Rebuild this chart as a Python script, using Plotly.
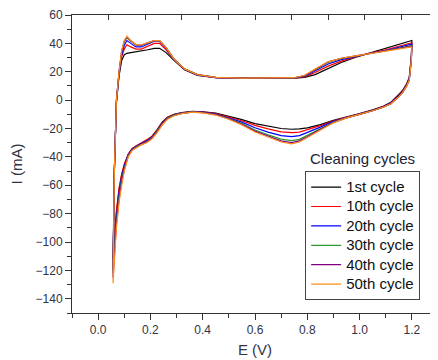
import plotly.graph_objects as go

# Shared potential grids (V)
E_fwd = [0.057, 0.059, 0.062, 0.066, 0.070, 0.080, 0.090, 0.100, 0.110, 0.125, 0.145, 0.165,
         0.190, 0.215, 0.235, 0.260, 0.290, 0.330, 0.380, 0.450, 0.550, 0.650, 0.750, 0.790,
         0.830, 0.880, 0.930, 0.980, 1.030, 1.100, 1.150, 1.200]
E_rev = [1.200, 1.198, 1.195, 1.190, 1.180, 1.165, 1.150, 1.120, 1.090, 1.050, 1.000, 0.950,
         0.900, 0.850, 0.800, 0.770, 0.740, 0.700, 0.650, 0.600, 0.550, 0.500, 0.450, 0.400,
         0.360, 0.320, 0.290, 0.265, 0.245, 0.225, 0.205, 0.185, 0.165, 0.145, 0.130, 0.115,
         0.100, 0.090, 0.080, 0.070, 0.063, 0.057]

cycle_names = ["1st cycle", "10th cycle", "20th cycle", "30th cycle", "40th cycle", "50th cycle"]
cycle_colors = ["#000000", "#ff0000", "#0000ff", "#2e9b2e", "#800080", "#ff8c1a"]

# Currents (mA), anodic (forward) sweeps
I_fwd_1 = [-112, -80, -50, -25, -2, 17, 28, 32, 33, 33.5, 34, 34.5, 35.5, 36.5, 36.5, 33.5, 28, 21.5,
           17.5, 15.8, 15.3, 15.3, 15.5, 16, 18, 22.5, 26.5, 30, 32.8, 36.5, 39.5, 42]
I_fwd_10 = [-118, -80, -50, -25, -1, 18.5, 30.5, 36, 39, 37.5, 36, 36, 38, 40, 40, 35.5, 28.5, 21.7,
            17.7, 15.9, 15.4, 15.4, 15.5, 16.4, 19.5, 24, 27.5, 30.3, 32.7, 35.5, 38, 40.5]
I_fwd_20 = [-120, -80, -50, -25, -0.5, 19, 32, 38.5, 42, 40, 37.5, 37.5, 39.5, 41.5, 41.5, 36.5, 28.8,
            21.8, 17.8, 15.9, 15.4, 15.4, 15.6, 16.7, 20.5, 25.5, 28.5, 30.7, 32.5, 35, 37.2, 39.5]
I_fwd_30 = [-122, -80, -50, -25, 0, 20, 34, 41, 44, 41.5, 38.7, 38.5, 40, 42, 42, 37, 29, 22, 18, 16,
            15.5, 15.5, 15.7, 17, 21.3, 26.5, 29.2, 31, 32.5, 34.7, 36.6, 38.5]
I_fwd_40 = [-125, -80, -50, -25, 0, 20, 34.5, 41.5, 44.5, 41.8, 39, 38.8, 40.3, 42, 42, 37, 29, 22, 18,
            16, 15.5, 15.5, 15.8, 17.3, 21.7, 27, 29.5, 31, 32.5, 34.5, 36.3, 38]
I_fwd_50 = [-129, -80, -50, -25, 0, 20, 35, 42, 45, 42, 39, 39, 40.5, 42, 42, 37, 29, 22, 18, 16,
            15.5, 15.5, 15.8, 17.5, 22, 27, 29.5, 31, 32.5, 34.5, 36, 37.5]

# Currents (mA), cathodic (reverse) sweeps
I_rev_1 = [42, 31, 23, 16, 11.5, 7, 4, -1.5, -4.4, -6.9, -9.4, -11.8, -14.2, -17.2, -19.5, -20.3, -20.5,
           -20, -18.5, -16.5, -13.7, -11.3, -9.2, -8.2, -7.9, -8.8, -10, -12, -15.5, -21, -25.8, -28.5,
           -30.3, -32.3, -34.3, -38.5, -46, -53, -63, -79, -95, -112]
I_rev_10 = [40.5, 30, 22, 15.5, 11, 6.5, 3.5, -1.8, -4.6, -7.1, -9.6, -12, -14.6, -18, -21, -22.5, -22.9,
            -22.3, -20.3, -17.8, -14.5, -11.8, -9.5, -8.3, -8, -8.9, -10.2, -12.3, -16, -21.2, -25.6,
            -28, -30, -32, -34, -38, -45, -52, -62, -78, -95, -118]
I_rev_20 = [39.5, 29, 21, 15, 10.5, 6, 3, -2, -4.8, -7.3, -9.8, -12.2, -15, -19, -23, -25, -25.7, -25,
            -22.5, -19.5, -15.5, -12.4, -9.8, -8.5, -8.2, -9.1, -10.4, -12.7, -16.5, -21.8, -26.2,
            -28.8, -30.6, -32.6, -34.5, -38.5, -46.5, -54, -65, -82, -100, -120]
I_rev_30 = [38.5, 28, 20, 14, 10, 5.5, 2.5, -2.5, -5, -7.5, -10, -12.4, -15.5, -20, -25, -27.6, -28.5,
            -27.5, -24.5, -21, -16.5, -12.9, -10.1, -8.7, -8.3, -9.3, -10.6, -13, -17, -22.3, -26.7,
            -29.3, -31, -33, -35, -39, -48, -56, -68, -85, -103, -122]
I_rev_40 = [38, 28, 20, 14, 10, 5.5, 2.5, -2.5, -5, -7.5, -10, -12.5, -15.8, -20.5, -25.8, -28.7, -29.9,
            -28.7, -25.3, -21.8, -17, -13.2, -10.3, -8.8, -8.4, -9.4, -10.8, -13.2, -17.2, -22.6, -27,
            -29.6, -31.2, -33.2, -35.2, -39.5, -49, -58, -70, -87, -105, -125]
I_rev_50 = [37.5, 28, 20, 14, 10, 5.5, 2.5, -2.5, -5, -7.5, -10, -12.5, -16, -21, -26.5, -29.5, -30.8,
            -29.5, -26, -22.5, -17.5, -13.5, -10.5, -9, -8.5, -9.5, -11, -13.5, -17.5, -23, -27.5, -30,
            -31.5, -33.5, -35.5, -40, -50, -60, -72, -90, -108, -129]

I_fwd = [I_fwd_1, I_fwd_10, I_fwd_20, I_fwd_30, I_fwd_40, I_fwd_50]
I_rev = [I_rev_1, I_rev_10, I_rev_20, I_rev_30, I_rev_40, I_rev_50]

FONT = "Liberation Sans, Arial, sans-serif"
TXT = "#333344"

fig = go.Figure()
for name, col, f, r in zip(cycle_names, cycle_colors, I_fwd, I_rev):
    fig.add_trace(go.Scatter(x=E_fwd + E_rev, y=f + r, mode="lines",
                             name="<span style='font-size:15px'>" + name + "</span>",
                             line=dict(color=col, width=1.2)))

# invisible trace to host the secondary (mirror-tick) axes
fig.add_trace(go.Scatter(x=[0], y=[0], xaxis="x2", yaxis="y2", mode="markers",
                         marker=dict(opacity=0), showlegend=False, hoverinfo="skip"))

fig.update_layout(
    width=430, height=352,
    margin=dict(l=64, r=0, t=7, b=47, autoexpand=False),
    plot_bgcolor="white", paper_bgcolor="white",
    font=dict(family=FONT, size=12, color=TXT),
    showlegend=True,
    legend=dict(x=0.637, y=0.475, xanchor="left", yanchor="top",
                bordercolor="#444444", borderwidth=1, bgcolor="rgba(255,255,255,0)",
                font=dict(size=12.6, color="#111111"), tracegroupgap=0,
                itemwidth=30),
    xaxis=dict(range=[-0.1, 1.3], tick0=0, dtick=0.2, tickformat=".1f", automargin=False,
               showgrid=False, zeroline=False, showline=True, linecolor="#333333", linewidth=1,
               ticks="outside", ticklen=6, tickcolor="#333333",
               minor=dict(dtick=0.1, tick0=0.1, ticks="outside", ticklen=4, tickcolor="#333333"),
               title=dict(text="E (V)", font=dict(size=15, color=TXT), standoff=8),
               tickfont=dict(size=12, color=TXT)),
    yaxis=dict(range=[-150, 60], tick0=0, dtick=20, automargin=False,
               showgrid=False, zeroline=False, showline=True, linecolor="#333333", linewidth=1,
               ticks="outside", ticklen=6, tickcolor="#333333",
               minor=dict(dtick=10, tick0=10, ticks="outside", ticklen=4, tickcolor="#333333"),
               title=dict(text="I (mA)", font=dict(size=15, color=TXT), standoff=11),
               tickfont=dict(size=12, color=TXT)),
    xaxis2=dict(overlaying="x", side="top", range=[0, 10], tickvals=[1, 2, 3, 4, 5, 6, 7, 8, 9],
                showticklabels=False, ticks="inside", ticklen=5, tickcolor="#333333", automargin=False,
                showline=True, linecolor="#333333", linewidth=1, showgrid=False, zeroline=False),
    yaxis2=dict(overlaying="y", side="right", range=[0, 10], tickvals=[1, 2, 3, 4, 5, 6, 7, 8, 9],
                showticklabels=False, ticks="inside", ticklen=5, tickcolor="#333333", automargin=False,
                showline=False, showgrid=False, zeroline=False),
    annotations=[dict(text="Cleaning cycles", xref="paper", yref="paper", x=0.795, y=0.517,
                      xanchor="center", yanchor="middle", showarrow=False,
                      font=dict(size=15, color="#222233"))],
)

fig.write_html("out.html")
